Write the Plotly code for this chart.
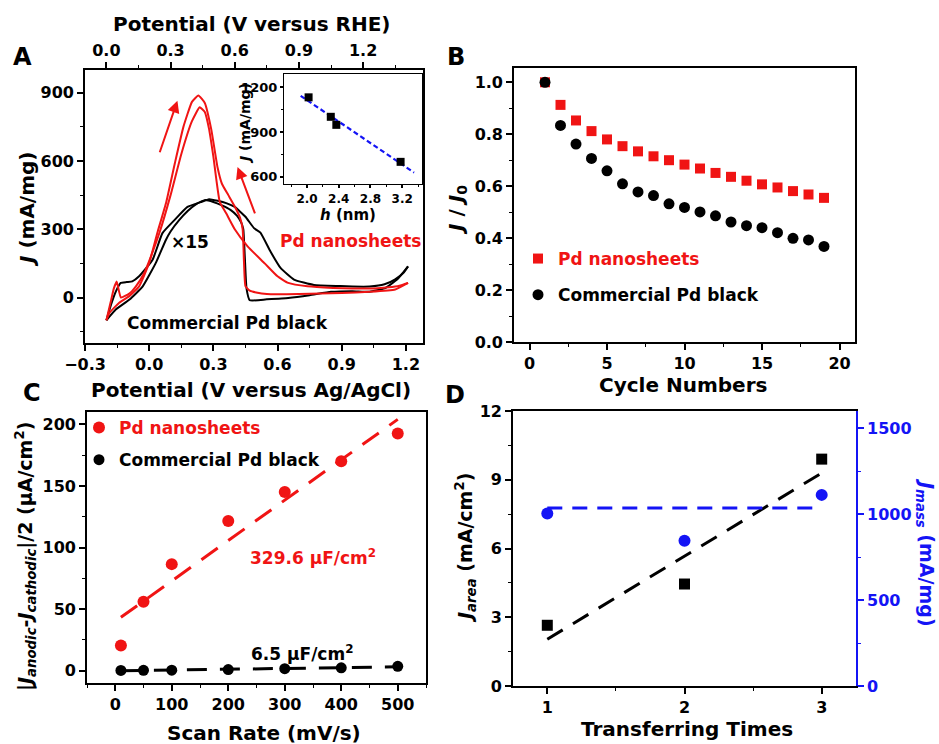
import numpy as np
import plotly.graph_objects as go

# ---------------- DATA ----------------
# Panel A: CV curves (V vs Ag/AgCl, mA/mg)
rf_v = [-0.2, -0.18, -0.165, -0.152, -0.132, -0.093, -0.062, -0.023, 0.008, 0.05, 0.1, 0.15, 0.2, 0.236,
        0.26, 0.28, 0.3, 0.33, 0.36, 0.4, 0.46, 0.54, 0.6, 0.65, 0.74, 0.86, 0.95, 1.05, 1.12, 1.17, 1.21]
rf_j = [-100, -20, 40, 70, 0, 17, 49, 108, 180, 290, 450, 630, 775, 836,
        815, 740, 620, 420, 370, 300, 225, 150, 93, 64, 49, 42, 40, 40, 45, 52, 64]
rb_v = [1.21, 1.15, 1.03, 0.9, 0.7, 0.55, 0.5, 0.47, 0.45, 0.443, 0.437, 0.425, 0.4, 0.37, 0.34,
        0.32, 0.29, 0.26, 0.23, 0.2, 0.16, 0.12, 0.08, 0.04, 0.0, -0.047, -0.093, -0.14, -0.185, -0.2]
rb_j = [64, 35, 25, 20, 15, 15, 22, 30, 50, 160, 300, 350, 400, 450, 500,
        570, 740, 855, 888, 860, 750, 590, 420, 290, 152, 49, 6, -23, -67, -100]
bf_v = [-0.2, -0.178, -0.155, -0.133, -0.105, -0.079, -0.047, 0.016, 0.062, 0.117, 0.179, 0.241, 0.28,
        0.32, 0.36, 0.4, 0.45, 0.49, 0.52, 0.567, 0.614, 0.677, 0.77, 0.894, 0.95, 1.03, 1.1, 1.15, 1.19, 1.21]
bf_j = [-100, -31, 28, 64, 68, 71, 93, 166, 283, 339, 398, 419, 432,
        425, 415, 398, 355, 305, 285, 202, 130, 79, 55, 50, 48, 48, 58, 80, 110, 137]
bb_v = [1.21, 1.16, 1.1, 1.03, 0.95, 0.85, 0.75, 0.65, 0.55, 0.47, 0.455, 0.447, 0.44, 0.43, 0.41,
        0.38, 0.34, 0.3, 0.26, 0.22, 0.18, 0.14, 0.1, 0.078, 0.031, -0.03, -0.092, -0.155, -0.2]
bb_j = [137, 80, 40, 25, 28, 25, 10, -2, -8, -12, 40, 180, 300, 330, 360,
        385, 405, 420, 428, 410, 380, 340, 290, 253, 152, 49, -9, -52, -100]

# Inset: J vs thickness h
inset_h = [2.02, 2.30, 2.37, 3.18]
inset_j = [1133, 1002, 948, 699]
inset_fit_h = [1.92, 3.35]

# Panel B: stability
cycles = list(range(1, 20))
b_ns = [1.0, 0.913, 0.853, 0.812, 0.780, 0.754, 0.734, 0.715, 0.700, 0.683, 0.668, 0.651,
        0.636, 0.621, 0.607, 0.595, 0.581, 0.568, 0.555]
b_black = [1.0, 0.834, 0.762, 0.707, 0.659, 0.609, 0.578, 0.564, 0.532, 0.518, 0.501, 0.486,
           0.462, 0.448, 0.440, 0.421, 0.399, 0.393, 0.368]

# Panel C: double-layer capacitance
scan_rate = [10, 50, 100, 200, 300, 400, 500]
c_ns = [20.5, 56, 86.5, 121.5, 145, 170, 192.5]
c_black = [0.2, 0.3, 0.4, 0.9, 1.6, 2.3, 3.5]

# Panel D: transferring times
transfer = [1, 2, 3]
j_area = [2.65, 4.45, 9.9]
j_mass = [1003, 845, 1112]
j_mass_fit = 1035

RHE_OFFSET = 0.2
RED = "#f01414"
BLUE = "#1414f5"
FONT = "DejaVu Sans"

W, H = 939, 744
def px(p): return p / W
def py(p): return 1 - p / H

def fnt(size, color="black"):
    return dict(family=FONT, size=size, color=color, weight="bold")

def axis(rng, dtick, minor_dtick, domain, anchor, tsize=16, color="black", fmt=None, mirror=True, lw=1.6,
         tick0=None, side=None, ticklen=6):
    d = dict(range=rng, autorange=False, dtick=dtick, domain=domain, anchor=anchor, showline=True, linecolor=color,
             linewidth=lw, mirror=mirror, ticks="outside", ticklen=ticklen, tickwidth=1.5, tickcolor=color,
             showgrid=False, zeroline=False, tickfont=fnt(tsize, color), automargin=False,
             minor=dict(ticks="outside", ticklen=max(2, ticklen // 2), tickwidth=1.2, tickcolor=color,
                        dtick=minor_dtick, showgrid=False))
    if fmt: d["tickformat"] = fmt
    if tick0 is not None: d["tick0"] = tick0
    if side: d["side"] = side
    return d

fig = go.Figure()

# ---- Panel A ----
for v, j, c in [(bf_v, bf_j, "black"), (bb_v, bb_j, "black"), (rf_v, rf_j, RED), (rb_v, rb_j, RED)]:
    fig.add_trace(go.Scatter(x=v, y=j, mode="lines", line=dict(color=c, width=2, shape="spline", smoothing=0.4),
                             xaxis="x", yaxis="y", showlegend=False, hoverinfo="skip"))
# same forward scan on the RHE scale (invisible) so that the top axis is drawn
fig.add_trace(go.Scatter(x=np.array(rf_v) + RHE_OFFSET, y=rf_j, mode="lines", line=dict(width=0),
                         opacity=0, xaxis="x2", yaxis="y", showlegend=False, hoverinfo="skip"))

# inset
coef = np.polyfit(inset_h, inset_j, 1)
fh = np.array(inset_fit_h)
fig.add_trace(go.Scatter(x=fh, y=np.polyval(coef, fh), mode="lines", line=dict(color=BLUE, width=2.2, dash="5px,3px"),
                         xaxis="x3", yaxis="y3", showlegend=False))
fig.add_trace(go.Scatter(x=inset_h, y=inset_j, mode="markers", marker=dict(symbol="square", size=8, color="black"),
                         xaxis="x3", yaxis="y3", showlegend=False))

# ---- Panel B ----
fig.add_trace(go.Scatter(x=cycles, y=b_ns, mode="markers", marker=dict(symbol="square", size=10, color=RED),
                         name=f"<span style='color:{RED}'>Pd nanosheets</span>", legendgroup="b1", legend="legend",
                         xaxis="x4", yaxis="y4"))
fig.add_trace(go.Scatter(x=cycles, y=b_black, mode="markers", marker=dict(symbol="circle", size=11, color="black"),
                         name="Commercial Pd black", legendgroup="b2", legend="legend", xaxis="x4", yaxis="y4"))

# ---- Panel C ----
sr = np.array(scan_rate)
cr = np.polyfit(sr, c_ns, 1)
cb = np.polyfit(sr, c_black, 1)
fit_x = np.array([sr.min(), sr.max()])
fig.add_trace(go.Scatter(x=fit_x, y=np.polyval(cr, fit_x), mode="lines", line=dict(color=RED, width=3, dash="20px,13px"),
                         xaxis="x5", yaxis="y5", showlegend=False))
fig.add_trace(go.Scatter(x=fit_x, y=np.polyval(cb, fit_x), mode="lines", line=dict(color="black", width=3, dash="20px,13px"),
                         xaxis="x5", yaxis="y5", showlegend=False))
fig.add_trace(go.Scatter(x=scan_rate, y=c_ns, mode="markers", marker=dict(symbol="circle", size=12, color=RED),
                         name=f"<span style='color:{RED}'>Pd nanosheets</span>", legendgroup="c1", legend="legend2",
                         xaxis="x5", yaxis="y5"))
fig.add_trace(go.Scatter(x=scan_rate, y=c_black, mode="markers", marker=dict(symbol="circle", size=11, color="black"),
                         name="Commercial Pd black", legendgroup="c2", legend="legend2", xaxis="x5", yaxis="y5"))

# ---- Panel D ----
tr = np.array(transfer)
cd = np.polyfit(tr, j_area, 1)
tx = np.array([tr.min(), tr.max()])
fig.add_trace(go.Scatter(x=tx, y=np.polyval(cd, tx), mode="lines", line=dict(color="black", width=3, dash="18px,12px"),
                         xaxis="x6", yaxis="y6", showlegend=False))
fig.add_trace(go.Scatter(x=transfer, y=j_area, mode="markers", marker=dict(symbol="square", size=11, color="black"),
                         xaxis="x6", yaxis="y6", showlegend=False))
fig.add_trace(go.Scatter(x=tx, y=[j_mass_fit] * len(tx), mode="lines", line=dict(color=BLUE, width=3, dash="15px,10px"),
                         xaxis="x6", yaxis="y7", showlegend=False))
fig.add_trace(go.Scatter(x=transfer, y=j_mass, mode="markers", marker=dict(symbol="circle", size=12, color=BLUE),
                         xaxis="x6", yaxis="y7", showlegend=False))

A_X = [-0.3, 1.28]
layout = dict(
    width=W, height=H, margin=dict(l=0, r=0, t=0, b=0, autoexpand=False),
    paper_bgcolor="white", plot_bgcolor="rgba(0,0,0,0)",
    xaxis=axis(A_X, 0.3, 0.15, [px(85), px(423)], "y", fmt=".1f", tick0=0),
    yaxis=axis([-200, 1000], 300, 150, [py(343), py(70)], "x", tick0=0),
    xaxis2=dict(axis([A_X[0] + RHE_OFFSET, A_X[1] + RHE_OFFSET], 0.3, 0.15, [px(85), px(423)], "y",
                     fmt=".1f", tick0=0, mirror=False, side="top"), overlaying="x"),
    xaxis3=axis([1.71, 3.45], 0.4, 0.2, [px(284), px(422)], "y3", tsize=12, fmt=".1f", lw=1.2, ticklen=3),
    yaxis3=axis([550, 1290], 300, 150, [py(184), py(74)], "x3", tsize=13, lw=1.2, ticklen=3),
    xaxis4=axis([-1, 21], 5, 2.5, [px(514), px(855)], "y4", tick0=0),
    yaxis4=axis([0, 1.055], 0.2, 0.1, [py(342), py(68)], "x4", fmt=".1f", tick0=0),
    xaxis5=axis([-50, 550], 100, 50, [px(87), px(426)], "y5", tick0=0),
    yaxis5=axis([-10, 210], 50, 25, [py(683), py(412)], "x5", tick0=0),
    xaxis6=axis([0.75, 3.25], 1, 0.5, [px(513), px(856)], "y6", tick0=0),
    yaxis6=axis([0, 12], 3, 1.5, [py(686), py(411)], "x6", tick0=0, mirror=False),
    yaxis7=dict(axis([0, 1600], 500, 250, [py(686), py(411)], "x6", color=BLUE, tick0=0, mirror=False, side="right"),
                overlaying="y6"),
    legend=dict(x=px(518), y=py(241), xanchor="left", yanchor="top", bgcolor="rgba(0,0,0,0)",
                font=fnt(17), tracegroupgap=11, itemsizing="trace"),
    legend2=dict(x=px(79), y=py(410), xanchor="left", yanchor="top", bgcolor="rgba(0,0,0,0)",
                 font=fnt(17), tracegroupgap=7, itemsizing="trace"),
)
fig.update_layout(**layout)

ann = []
def t(text, x, y, size=20, color="black", angle=0, xanchor="center"):
    ann.append(dict(text=text, x=px(x), y=py(y), xref="paper", yref="paper", showarrow=False,
                    font=fnt(size, color), textangle=angle, xanchor=xanchor, yanchor="middle"))

# panel letters
t("A", 22, 57, 24); t("B", 456, 57, 24); t("C", 32, 393, 24); t("D", 455, 395, 24)
# Panel A
t("Potential (V versus RHE)", 252, 24, 20)
t("<i>J</i> (mA/mg)", 27, 210, 20, angle=-90)
t("Potential (V versus Ag/AgCl)", 251, 390, 20)
t("×15", 190, 242, 17)
t("Pd nanosheets", 350, 241, 17, RED)
t("Commercial Pd black", 227, 323, 17)
t("<i>J</i> (mA/mg)", 245, 124, 14, angle=-90)
t("<i>h</i> (nm)", 348, 215, 15)
# Panel B
t("<i>J</i> / <i>J</i><sub>0</sub>", 457, 210, 20, angle=-90)
t("Cycle Numbers", 683, 385, 20)
# Panel C
t("|<i>J</i><sub><i>anodic</i></sub>-<i>J</i><sub><i>cathodic</i></sub>|/2 (µA/cm<sup>2</sup>)", 25, 557, 19, angle=-90)
t("Scan Rate (mV/s)", 264, 733, 20)
t("329.6 µF/cm<sup>2</sup>", 313, 557, 17, RED)
t("6.5 µF/cm<sup>2</sup>", 302, 653, 17)
# Panel D
t("<i>J</i><sub><i>area</i></sub> (mA/cm<sup>2</sup>)", 465, 548, 19, angle=-90)
t("<i>J</i><sub><i>mass</i></sub> (mA/mg)", 926, 552, 19, BLUE, angle=90)
t("Transferring Times", 687, 729, 20)

# arrows in panel A
for (x0, y0, x1, y1) in [(0.047, 632, 0.132, 865), (0.497, 363, 0.413, 574)]:
    ann.append(dict(x=x1, y=y1, ax=x0, ay=y0, xref="x", yref="y", axref="x", ayref="y", showarrow=True,
                    arrowhead=2, arrowsize=1.2, arrowwidth=2, arrowcolor=RED, text=""))

fig.update_layout(annotations=ann)
fig.write_html("out.html")
